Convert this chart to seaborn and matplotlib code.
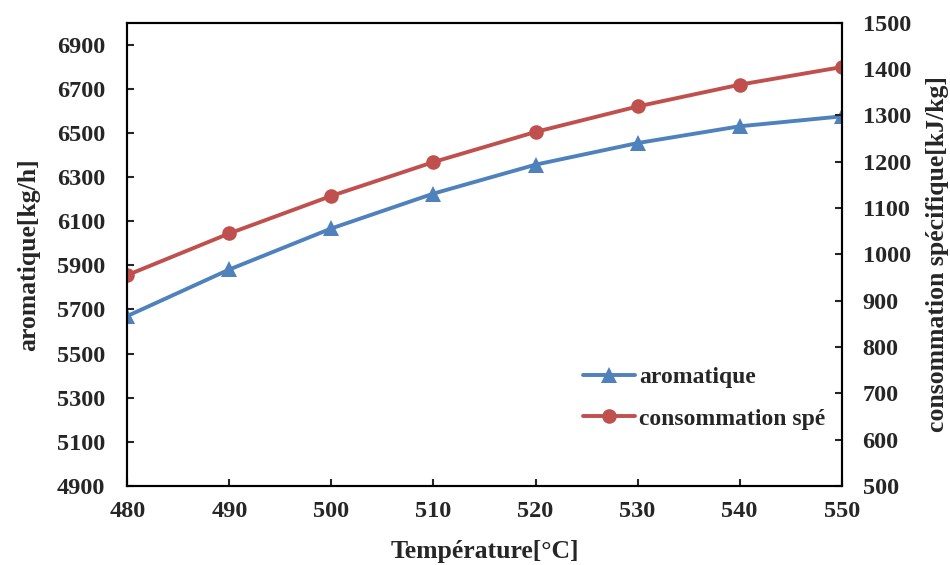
import matplotlib
matplotlib.use('Agg')
import matplotlib.pyplot as plt
import seaborn as sns

# valeurs
temperature = [480, 490, 500, 510, 520, 530, 540, 550]
aromatique = [5670, 5881, 6067, 6225, 6356, 6454, 6530, 6575]
consommation = [955, 1045, 1126, 1199, 1264, 1319, 1366, 1404]

sns.set_style('ticks')
plt.rcParams['font.family'] = ['Liberation Serif', 'DejaVu Serif']
plt.rcParams['font.weight'] = 'bold'

bleu = '#4F81BD'
rouge = '#C0504D'

fig = plt.figure(figsize=(9.5, 5.65), dpi=100)
ax = fig.add_axes([0.134, 0.140, 0.752, 0.820])
ax2 = ax.twinx()

sns.lineplot(x=temperature, y=aromatique, ax=ax, color=bleu, marker='^',
             markersize=12, markeredgewidth=0, linewidth=2.8, label='aromatique', legend=False)
sns.lineplot(x=temperature, y=consommation, ax=ax2, color=rouge, marker='o',
             markersize=10.5, markeredgewidth=0, linewidth=2.8, label='consommation spé', legend=False)

ax.set_xlim(480, 550)
ax.set_ylim(4900, 7000)
ax.set_yticks(range(4900, 7000, 200))
ax.set_xticks(range(480, 551, 10))
ax2.set_ylim(500, 1500)
ax2.set_yticks(range(500, 1501, 100))

for a in (ax, ax2):
    for s in a.spines.values():
        s.set_linewidth(1.5)
        s.set_color('black')
    a.tick_params(direction='in', length=5, width=1.5, labelsize=17.5)
ax.tick_params(axis='y', pad=16)
ax2.tick_params(axis='y', pad=15)
ax.tick_params(axis='x', pad=11)
ax.grid(False)

ax.set_xlabel('Température[°C]', fontsize=18.5, fontweight='bold', labelpad=13)
ax.set_ylabel('aromatique[kg/h]', fontsize=18.5, fontweight='bold', labelpad=12)
ax2.set_ylabel('consommation spécifique[kJ/kg]', fontsize=18.5, fontweight='bold', labelpad=11)

h1, l1 = ax.get_legend_handles_labels()
h2, l2 = ax2.get_legend_handles_labels()
ax2.legend(h1 + h2, l1 + l2, loc='upper left', bbox_to_anchor=(0.591, 0.389),
           bbox_transform=fig.transFigure, frameon=False, fontsize=17,
           handlelength=2.2, handletextpad=0.2, labelspacing=0.85)

fig.savefig('out.png', dpi=100)
